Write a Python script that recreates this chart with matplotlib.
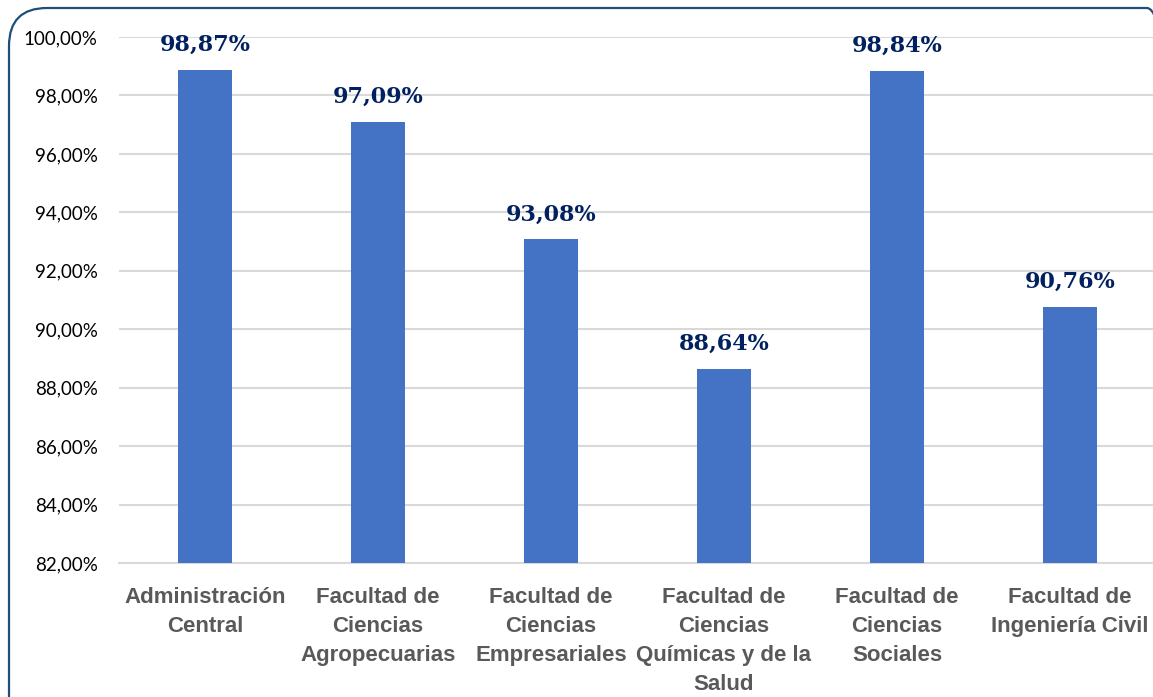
import matplotlib
matplotlib.use("Agg")
import matplotlib.pyplot as plt
from matplotlib.patches import FancyBboxPatch
from matplotlib.transforms import Affine2D

categories = ["Administración\nCentral", "Facultad de\nCiencias\nAgropecuarias",
              "Facultad de\nCiencias\nEmpresariales", "Facultad de\nCiencias\nQuímicas y de la\nSalud",
              "Facultad de\nCiencias\nSociales", "Facultad de\nIngeniería Civil"]
values = [98.87, 97.09, 93.08, 88.64, 98.84, 90.76]
yticks = [82, 84, 86, 88, 90, 92, 94, 96, 98, 100]

W, H = 1153, 697
fig = plt.figure(figsize=(W/100, H/100), dpi=100)
fig.patch.set_facecolor("white")

# rounded border in pixel coordinates (y up)
pix = Affine2D()
border = FancyBboxPatch((9, -40), 1185 - 9, (697 - 8) + 40,
                        boxstyle="round,pad=0,rounding_size=38",
                        transform=pix, fill=False,
                        edgecolor="#1F4E79", linewidth=1.6, zorder=0)
fig.add_artist(border)

left, right = 118.5/W, 1156.5/W
bottom, top = 1 - 563/H, 1 - 37/H
ax = fig.add_axes([left, bottom, right-left, top-bottom])
ax.set_facecolor("none")
x = list(range(len(values)))
ax.bar(x, values, width=0.31, color="#4472C4", zorder=3)
ax.set_ylim(82, 100)
ax.set_xlim(-0.5, len(values)-0.5)
ax.set_yticks(yticks)
ax.set_yticklabels([f"{v:.2f}%".replace(".", ",") for v in yticks],
                   fontsize=13.5, color="#000000", family="Lato")
ax.tick_params(axis="y", length=0, pad=15)
ax.set_xticks(x)
ax.set_xticklabels(categories, fontsize=16, fontweight="bold", color="#595959",
                   family="Liberation Sans", linespacing=1.5)
ax.tick_params(axis="x", length=0, pad=17)
ax.grid(axis="y", color="#D9D9D9", linewidth=1.5, zorder=0)
for s in ["top", "right", "left"]:
    ax.spines[s].set_visible(False)
ax.spines["bottom"].set_color("#D9D9D9")
ax.spines["bottom"].set_linewidth(1.5)

for xi, v in zip(x, values):
    ax.annotate(f"{v:.2f}%".replace(".", ","), (xi, v), xytext=(0, 10),
                textcoords="offset points", ha="center", va="bottom",
                fontsize=16, fontweight="bold", color="#002060", family="DejaVu Serif",
                zorder=4)

fig.savefig("out.png", dpi=100)
